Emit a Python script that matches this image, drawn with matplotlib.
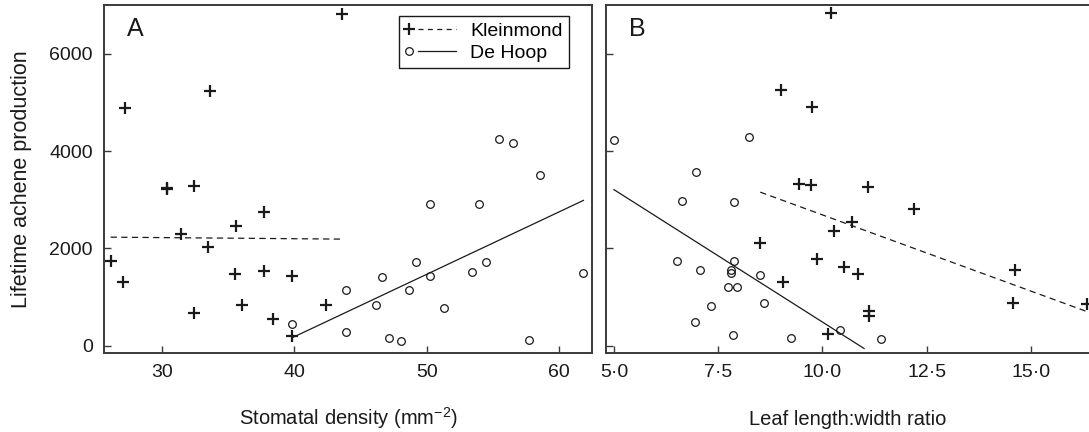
import numpy as np
import matplotlib
matplotlib.use("Agg")
import matplotlib.pyplot as plt
from matplotlib.lines import Line2D
from matplotlib.legend_handler import HandlerBase

plt.rcParams['font.family'] = ['Liberation Sans', 'DejaVu Sans']
plt.rcParams['mathtext.fontset'] = 'custom'
plt.rcParams['mathtext.rm'] = 'Liberation Sans'
plt.rcParams['mathtext.it'] = 'Liberation Sans:italic'

# ---------------- data ----------------
# Panel A: stomatal density
kl_a_x = [27.2, 33.6, 30.4, 30.4, 32.4, 43.6, 37.7, 35.6, 31.4, 33.5,
          26.1, 27.0, 35.5, 37.7, 39.8, 36.0, 32.4, 38.4, 42.4, 39.8]
kl_a_y = [4890, 5230, 3215, 3240, 3285, 6805, 2750, 2465, 2295, 2035,
          1730, 1300, 1480, 1545, 1440, 835, 670, 540, 845, 190]
dh_a_x = [39.8, 50.25, 53.95, 49.2, 54.5, 46.65, 50.25, 53.4, 61.85, 43.9,
          48.7, 46.15, 51.3, 43.9, 47.15, 48.05, 57.7, 55.5, 56.5, 58.6]
dh_a_y = [437, 2915, 2915, 1713, 1713, 1413, 1440, 1508, 1488, 1153,
          1153, 840, 771, 287, 164, 89, 117, 4253, 4164, 3516]
kl_a_fit_x = [26.1, 43.6]
kl_a_fit_y = [2230, 2190]
dh_a_fit_x = [39.8, 61.85]
dh_a_fit_y = [160, 2985]

# Panel B: leaf length:width ratio
kl_b_x = [10.21, 9.01, 9.74, 9.44, 9.72, 10.29, 8.51, 9.88, 10.53, 9.05,
          10.14, 11.10, 12.21, 10.70, 10.85, 11.12, 11.12, 14.61, 14.58, 16.34]
kl_b_y = [6840, 5263, 4908, 3324, 3311, 2355, 2103, 1775, 1608, 1317,
          246, 3263, 2806, 2533, 1481, 723, 614, 1549, 887, 860]
dh_b_x = [5.0, 8.24, 6.96, 6.63, 7.87, 6.51, 7.87, 7.06, 7.81, 7.81,
          8.51, 7.73, 7.95, 7.32, 8.59, 6.94, 7.85, 9.25, 10.42, 11.41]
dh_b_y = [4233, 4287, 3570, 2970, 2943, 1747, 1747, 1556, 1556, 1495,
          1447, 1208, 1208, 825, 887, 491, 211, 150, 328, 143]
kl_b_fit_x = [8.51, 16.34]
kl_b_fit_y = [3155, 703]
dh_b_fit_x = [5.0, 11.0]
dh_b_fit_y = [3207, -57]

yticks = [0, 2000, 4000, 6000]
xticks_a = [30, 40, 50, 60]
xticks_b = [5.0, 7.5, 10.0, 12.5, 15.0]
xticklabels_b = ['5·0', '7·5', '10·0', '12·5', '15·0']
series_names = ['Kleinmond', 'De Hoop']
panel_letters = ['A', 'B']
xlabels = ['Stomatal density (mm$^{\\mathrm{−2}}$)', 'Leaf length:width ratio']
ylabel = 'Lifetime achene production'

# ---------------- style ----------------
INK = '#1a1a1a'
SPINE = '#3a3a3a'
TICK_FS = 14
LABEL_FS = 14.5
plus_kw = dict(linestyle='None', marker='+', markersize=8, markeredgewidth=1.6,
               color=INK)
circ_kw = dict(linestyle='None', marker='o', markersize=5.5, markeredgewidth=0.9,
               markerfacecolor='none', markeredgecolor=INK)

W, H = 1089, 432
fig = plt.figure(figsize=(W / 100, H / 100), dpi=100)
axA = fig.add_axes([104 / W, (H - 353) / H, 488 / W, 348 / H])
axB = fig.add_axes([606 / W, (H - 353) / H, 489 / W, 348 / H])

def style(ax):
    for s in ax.spines.values():
        s.set_color(SPINE)
        s.set_linewidth(1.4)
    ax.tick_params(direction='in', length=5, width=1.0, color=SPINE,
                   labelsize=TICK_FS, labelcolor=INK)
    ax.tick_params(axis='y', pad=8)
    ax.tick_params(axis='x', pad=8)
    ax.set_ylim(-150, 7000)
    ax.set_yticks(yticks)

# Panel A
axA.plot(kl_a_x, kl_a_y, **plus_kw)
axA.plot(dh_a_x, dh_a_y, **circ_kw)
axA.plot(kl_a_fit_x, kl_a_fit_y, color=INK, linewidth=0.9, dashes=(5, 3.5))
axA.plot(dh_a_fit_x, dh_a_fit_y, color=INK, linewidth=0.9)
style(axA)
axA.set_xlim(25.6, 62.5)
axA.set_xticks(xticks_a)
axA.set_ylabel(ylabel, fontsize=15.5, color=INK)
axA.yaxis.set_label_coords(-0.1475, 0.5)
axA.text(0.047, 0.93, panel_letters[0], transform=axA.transAxes, fontsize=18,
         va='center', ha='left', color=INK)

# Panel B
axB.plot(kl_b_x, kl_b_y, **plus_kw)
axB.plot(dh_b_x, dh_b_y, **circ_kw)
axB.plot(kl_b_fit_x, kl_b_fit_y, color=INK, linewidth=0.9, dashes=(5, 3.5))
axB.plot(dh_b_fit_x, dh_b_fit_y, color=INK, linewidth=0.9)
style(axB)
axB.set_xlim(4.81, 16.54)
axB.set_xticks(xticks_b)
axB.set_xticklabels(xticklabels_b)
axB.set_yticklabels([])
axB.text(0.047, 0.93, panel_letters[1], transform=axB.transAxes, fontsize=18,
         va='center', ha='left', color=INK)

# x labels, same baseline
fig.text((104 + 592) / 2 / W, 7 / H, xlabels[0], ha='center', va='baseline',
         fontsize=LABEL_FS, color=INK)
fig.text(848 / W, 7 / H, xlabels[1], ha='center', va='baseline',
         fontsize=LABEL_FS, color=INK)

# Legend: marker on the left, then the line
class LeftMarker(HandlerBase):
    def create_artists(self, legend, orig, xd, yd, w, h, fs, trans):
        y = h / 2 - yd
        ln = Line2D([-xd + 0.25 * w, -xd + w], [y, y])
        ln.update_from(orig)
        ln.set_marker('None')
        mk = Line2D([-xd + 0.08 * w], [y])
        mk.update_from(orig)
        mk.set_linestyle('None')
        for a in (ln, mk):
            a.set_transform(trans)
        return [ln, mk]

hk = Line2D([], [], color=INK, linewidth=0.9, dashes=(4, 3.5), marker='+',
            markersize=8, markeredgewidth=1.6)
hd = Line2D([], [], color=INK, linewidth=0.9, marker='o', markersize=5.5,
            markeredgewidth=0.9, markerfacecolor='none', markeredgecolor=INK)
leg = axA.legend([hk, hd], series_names, loc='upper right',
                 bbox_to_anchor=((569 - 104) / 488, 1 - (16 - 5) / 348),
                 borderaxespad=0, fontsize=14, handlelength=2.6, handletextpad=0.75,
                 borderpad=0.32, labelspacing=0.22, fancybox=False, framealpha=1,
                 edgecolor=INK, handler_map={hk: LeftMarker(), hd: LeftMarker()})
leg.get_frame().set_linewidth(1.0)

fig.savefig('out.png', dpi=100)
